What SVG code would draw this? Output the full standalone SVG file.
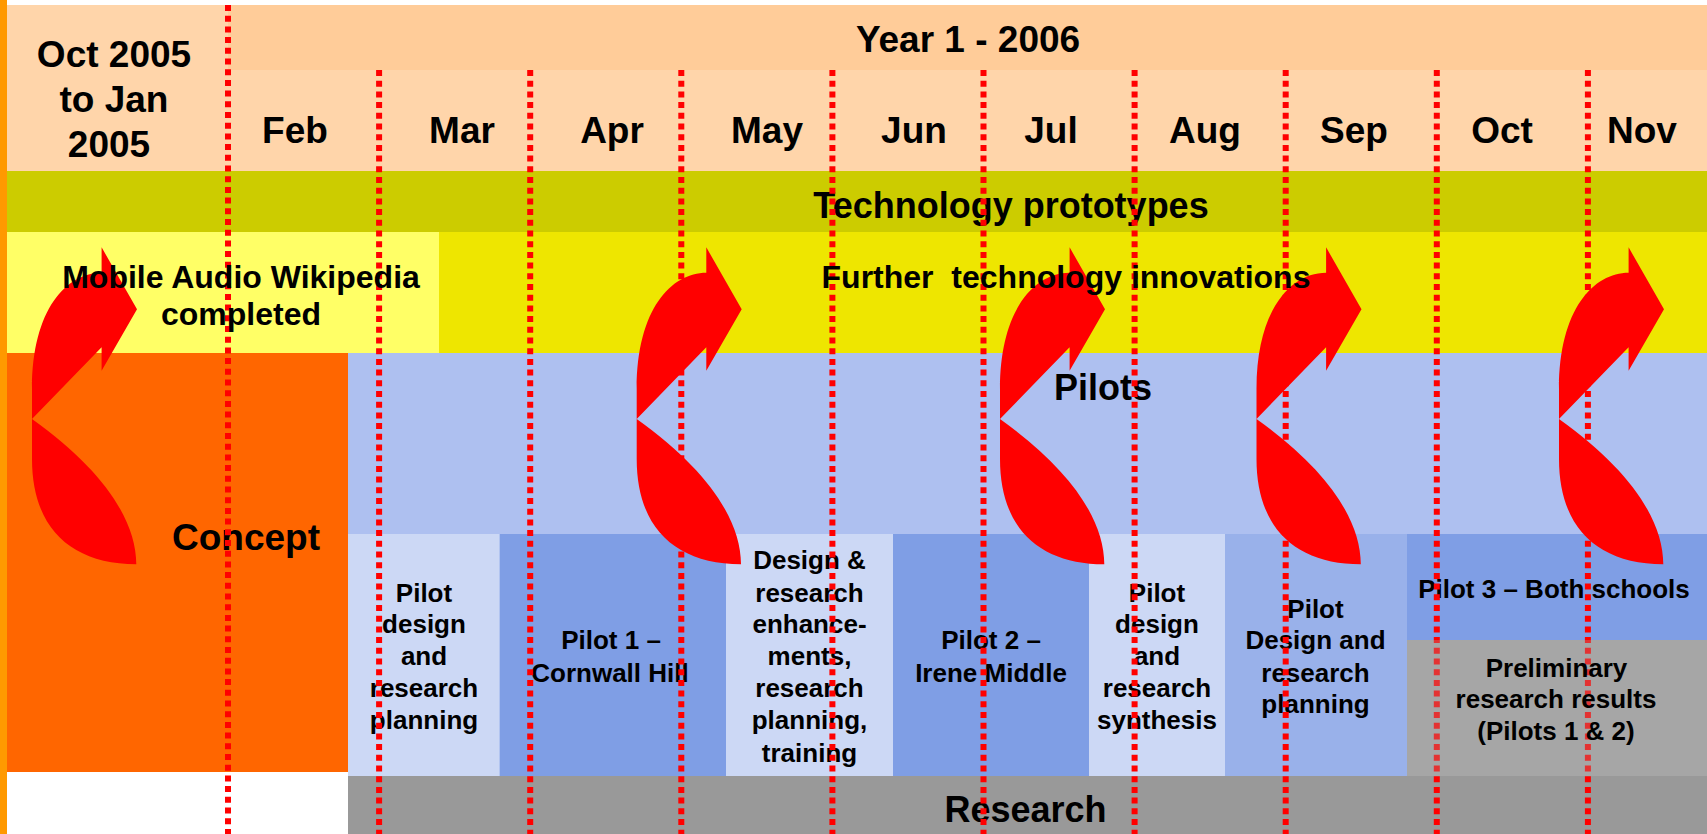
<svg xmlns="http://www.w3.org/2000/svg" width="1707" height="834" viewBox="0 0 1707 834">
<style>
  text { font-family: "Liberation Sans", Arial, Helvetica, sans-serif; font-weight: bold; fill: #000000; text-anchor: middle; }
  .h { font-size: 37px; }
  .band { font-size: 36px; }
  .sub { font-size: 32px; white-space: pre; }
  .bx { font-size: 26px; }
  .grid { stroke: #FF0000; stroke-width: 6; stroke-dasharray: 6 4.7; fill: none; }
  .light { fill: #CCD8F5; }
  .dark { fill: #7F9EE5; }
  .mid { fill: #99B1EA; }
  .grey { fill: #A6A6A6; }
  .arrow { fill: #FF0000; }
</style>
<defs>
  <path id="curvedArrow" d="M0,0 L69.6,-71.7 L69.6,-48.3 L105,-109.7 L69.6,-171.7 L69.6,-146.3 C35,-146.3 0,-110 0,-30 L0,40 C0,110 40,145 104.3,145.3 C104,100 70,50 0,0 Z"/>
</defs>
<rect x="0" y="0" width="1707" height="834" fill="#FFFFFF"/>
<rect x="0" y="0" width="7" height="834" fill="#FF9900"/>

<g id="header">
  <rect x="7" y="5" width="221" height="166" fill="#FFD5AA"/>
  <rect x="228" y="5" width="1479" height="65" fill="#FFCC99"/>
  <rect x="228" y="70" width="1479" height="101" fill="#FFD5AA"/>
  <text class="h" x="114" y="67">Oct 2005</text>
  <text class="h" x="114" y="112">to Jan</text>
  <text class="h" x="109" y="157">2005</text>
  <text class="h" x="968" y="52">Year 1 - 2006</text>
  <text class="h" x="295" y="143">Feb</text>
  <text class="h" x="462" y="143">Mar</text>
  <text class="h" x="612" y="143">Apr</text>
  <text class="h" x="767" y="143">May</text>
  <text class="h" x="914" y="143">Jun</text>
  <text class="h" x="1051" y="143">Jul</text>
  <text class="h" x="1205" y="143">Aug</text>
  <text class="h" x="1354" y="143">Sep</text>
  <text class="h" x="1502" y="143">Oct</text>
  <text class="h" x="1642" y="143">Nov</text>
</g>

<g id="tech-prototypes">
  <rect x="7" y="171" width="1700" height="61" fill="#CCCC00"/>
  <text class="band" x="1011" y="218">Technology prototypes</text>
</g>

<g id="mobile-audio-wikipedia">
  <rect x="7" y="232" width="432" height="121" fill="#FFFF66"/>
</g>
<g id="further-innovations">
  <rect x="439" y="232" width="1268" height="121" fill="#EEE600"/>
</g>

<g id="concept">
  <rect x="7" y="353" width="341" height="419" fill="#FF6600"/>
  <text class="h" x="246" y="550">Concept</text>
</g>

<g id="pilots">
  <rect x="348" y="353" width="1359" height="181" fill="#AEC0F0"/>
  <text class="band" x="1103" y="400">Pilots</text>
</g>

<g id="research">
  <rect x="348" y="776" width="1359" height="58" fill="#999999"/>
  <text class="band" x="1025.5" y="822">Research</text>
</g>

<g id="box-pilot-design-1">
  <rect class="light" x="348" y="534" width="151.5" height="242"/>
  <text class="bx" x="424" y="601.7">Pilot</text>
  <text class="bx" x="424" y="633.3">design</text>
  <text class="bx" x="424" y="665">and</text>
  <text class="bx" x="424" y="697.3">research</text>
  <text class="bx" x="424" y="729.3">planning</text>
</g>

<g id="box-pilot-1">
  <rect class="dark" x="499.5" y="534" width="226.5" height="242"/>
  <text class="bx" x="611" y="649.3">Pilot 1 –</text>
  <text class="bx" x="610" y="681.7">Cornwall Hill</text>
</g>

<g id="box-design-enhancements">
  <rect class="light" x="726" y="534" width="167" height="242"/>
  <text class="bx" x="809.5" y="569.3">Design &amp;</text>
  <text class="bx" x="809.5" y="601.7">research</text>
  <text class="bx" x="809.5" y="633.3">enhance-</text>
  <text class="bx" x="809.5" y="665">ments,</text>
  <text class="bx" x="809.5" y="697.3">research</text>
  <text class="bx" x="809.5" y="729.3">planning,</text>
  <text class="bx" x="809.5" y="761.7">training</text>
</g>

<g id="box-pilot-2">
  <rect class="dark" x="893" y="534" width="196" height="242"/>
  <text class="bx" x="991" y="649.3">Pilot 2 –</text>
  <text class="bx" x="991" y="681.7">Irene Middle</text>
</g>

<g id="box-pilot-synthesis">
  <rect class="light" x="1089" y="534" width="136" height="242"/>
  <text class="bx" x="1157" y="601.7">Pilot</text>
  <text class="bx" x="1157" y="633.3">design</text>
  <text class="bx" x="1157" y="665">and</text>
  <text class="bx" x="1157" y="697.3">research</text>
  <text class="bx" x="1157" y="729.3">synthesis</text>
</g>

<g id="box-pilot-design-2">
  <rect class="mid" x="1225" y="534" width="182" height="242"/>
  <text class="bx" x="1315.5" y="617.7">Pilot</text>
  <text class="bx" x="1315.5" y="649.3">Design and</text>
  <text class="bx" x="1315.5" y="681.7">research</text>
  <text class="bx" x="1315.5" y="713.3">planning</text>
</g>

<g id="box-pilot-3">
  <rect class="dark" x="1407" y="534" width="300" height="106"/>
  <text class="bx" x="1554" y="597.7">Pilot 3 – Both schools</text>
</g>

<rect class="grey" x="1407" y="640" width="300" height="136"/>

<g id="month-dividers">
  <line class="grid" x1="228" y1="5" x2="228" y2="834"/>
  <line class="grid" x1="379.1" y1="70" x2="379.1" y2="834"/>
  <line class="grid" x1="530.2" y1="70" x2="530.2" y2="834"/>
  <line class="grid" x1="681.3" y1="70" x2="681.3" y2="834"/>
  <line class="grid" x1="832.4" y1="70" x2="832.4" y2="834"/>
  <line class="grid" x1="983.5" y1="70" x2="983.5" y2="834"/>
  <line class="grid" x1="1134.6" y1="70" x2="1134.6" y2="834"/>
  <line class="grid" x1="1285.7" y1="70" x2="1285.7" y2="834"/>
  <line class="grid" x1="1436.8" y1="70" x2="1436.8" y2="834"/>
  <line class="grid" x1="1587.9" y1="70" x2="1587.9" y2="834"/>
</g>

<g id="box-preliminary-results">
  <rect class="grey" x="1407" y="640" width="300" height="136" fill-opacity="0.3"/>
  <text class="bx" x="1556.5" y="677.3">Preliminary</text>
  <text class="bx" x="1556" y="708.3">research results</text>
  <text class="bx" x="1556" y="740">(Pilots 1 &amp; 2)</text>
</g>

<g id="connectors">
  <use href="#curvedArrow" class="arrow" transform="translate(32,419)"/>
  <use href="#curvedArrow" class="arrow" transform="translate(636.7,419)"/>
  <use href="#curvedArrow" class="arrow" transform="translate(1000,419)"/>
  <use href="#curvedArrow" class="arrow" transform="translate(1256.5,419)"/>
  <use href="#curvedArrow" class="arrow" transform="translate(1559,419)"/>
</g>

<g id="technology-labels">
  <text class="sub" x="241" y="288">Mobile Audio Wikipedia</text>
  <text class="sub" x="241" y="325">completed</text>
  <text class="sub" x="1066" y="288">Further  technology innovations</text>
</g>
</svg>
